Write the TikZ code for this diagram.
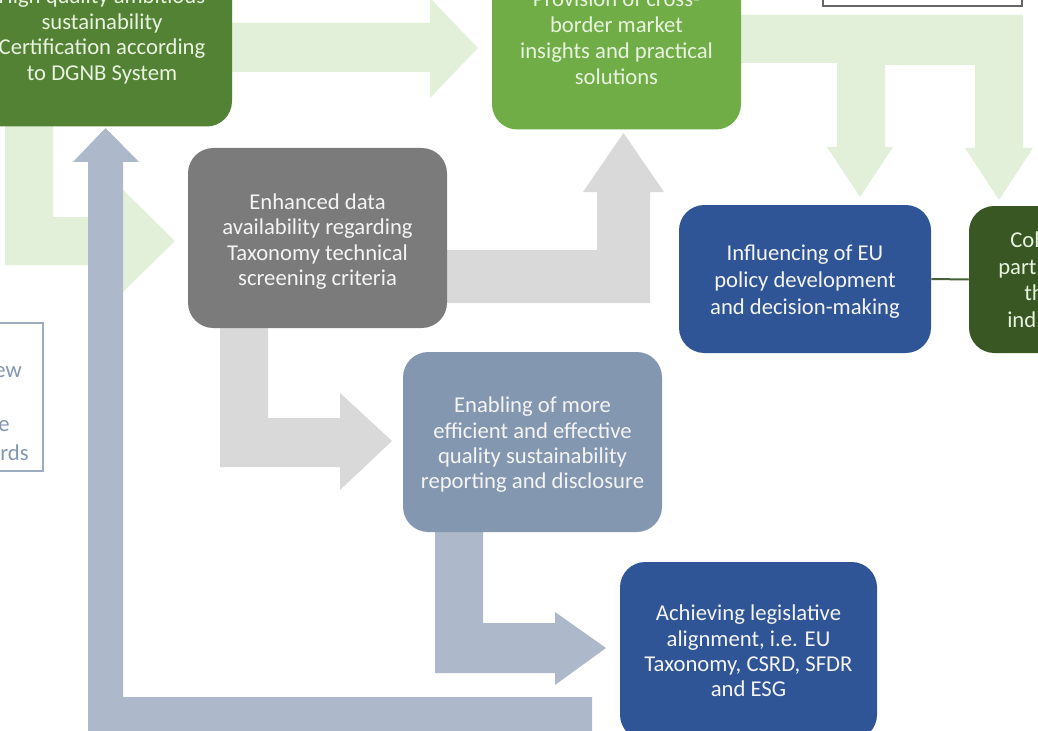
\documentclass[tikz,border=0pt]{standalone}
\usepackage{fontspec}
\setmainfont{Carlito}
\definecolor{cgreen}{HTML}{548235}
\definecolor{pgreen}{HTML}{70AD47}
\definecolor{dgray}{HTML}{7B7B7B}
\definecolor{bgray}{HTML}{8497B0}
\definecolor{dblue}{HTML}{2F5597}
\definecolor{dgreen}{HTML}{385723}
\definecolor{lgreen}{HTML}{E2F0D9}
\definecolor{lgray}{HTML}{D9D9D9}
\definecolor{lbgray}{HTML}{ADB9CA}
\definecolor{gtext}{HTML}{E8F3E0}
\definecolor{wtext}{HTML}{F4F4F4}
\tikzset{
  boxbase/.style={rounded corners=19pt, inner sep=0pt},
  greenbox/.style={boxbase, fill=#1},
  otherbox/.style={boxbase, fill=#1},
  boxtext/.style={inner sep=0pt, align=center, font=\fontsize{17}{19}\selectfont},
  greenarrow/.style={fill=lgreen, draw=none},
  grayarrow/.style={fill=lgray, draw=none},
  bluearrow/.style={fill=lbgray, draw=none},
  fragtext/.style={inner sep=0pt, font=\fontsize{17}{19}\selectfont},
}
\begin{document}
\begin{tikzpicture}[x=0.75pt,y=-0.75pt]
\useasboundingbox (0,0) rectangle (1038,731);
\clip (0,0) rectangle (1038,731);
\fill[white] (0,0) rectangle (1038,731);

% light green arrows
\path[greenarrow] (225,23) -- (430,23) -- (430,-2) -- (478,48) -- (430,98) -- (430,72) -- (225,72) -- cycle;
\path[greenarrow] (735,15) -- (1023,15) -- (1023,148) -- (1033,148) -- (999,200) -- (965,148) -- (975,148)
  -- (975,65) -- (885,65) -- (885,147) -- (893,147) -- (860,197) -- (827,147) -- (837,147)
  -- (837,63) -- (735,63) -- cycle;
\path[greenarrow] (5,118) -- (53,118) -- (53,217) -- (123,217) -- (123,190) -- (175,241) -- (123,292)
  -- (123,265) -- (5,265) -- cycle;

% light gray arrows
\path[grayarrow] (440,250) -- (597,250) -- (597,192) -- (583,192) -- (623.5,133) -- (664,192) -- (650,192)
  -- (650,303) -- (440,303) -- cycle;
\path[grayarrow] (220,320) -- (268,320) -- (268,418) -- (340,418) -- (340,393) -- (392,441) -- (340,490)
  -- (340,467) -- (220,467) -- cycle;

% blue-gray arrows
\path[bluearrow] (592,697) -- (592,740) -- (88,740) -- (88,162) -- (73,162) -- (105.5,128) -- (139,162)
  -- (123,162) -- (123,697) -- cycle;
\path[bluearrow] (435,525) -- (483,525) -- (483,623) -- (555,623) -- (555,612) -- (606,648) -- (555,685)
  -- (555,673) -- (435,673) -- cycle;

% outline boxes at the edges
\draw[draw=bgray!80, line width=1.1pt, fill=white] (-10,323) rectangle (43,471);
\draw[draw=black!60, line width=1.1pt, fill=white] (823,-20) rectangle (1022,6);
\node[fragtext, text=bgray, anchor=east] (lf1) at (22,372) {ew};
\node[fragtext, text=bgray, anchor=east] (lf2) at (10,426) {e};
\node[fragtext, text=bgray, anchor=east] (lf3) at (29,453) {rds};

% boxes
\node[greenbox=cgreen, minimum width=195pt, minimum height=135.75pt] (cert) at (102,36) {};
\node[boxtext, text=gtext, font=\fontsize{17}{19.4}\selectfont] (certT) at (cert.center)
  {High quality ambitious\\sustainability\\Certification according\\to DGNB System};
\node[greenbox=pgreen, minimum width=186.75pt, minimum height=137.25pt] (prov) at (616.5,38) {};
\node[boxtext, text=gtext, font=\fontsize{17}{19.6}\selectfont] (provT) at (prov.center)
  {Provision of cross-\\border market\\insights and practical\\solutions};
\node[otherbox=dgray, minimum width=194.25pt, minimum height=135pt] (data) at (317.5,238) {};
\node[boxtext, text=wtext, yshift=-2.6pt] (dataT) at (data.center)
  {Enhanced data\\availability regarding\\Taxonomy technical\\screening criteria};
\node[otherbox=bgray, minimum width=194.25pt, minimum height=135pt] (enab) at (532.5,442) {};
\node[boxtext, text=wtext, yshift=-2.2pt] (enabT) at (enab.center)
  {Enabling of more\\efficient and effective\\quality sustainability\\reporting and disclosure};
\node[otherbox=dblue, minimum width=189pt, minimum height=111pt] (infl) at (805,279) {};
\node[boxtext, text=wtext, font=\fontsize{17}{20.2}\selectfont, yshift=-2.2pt] (inflT) at (infl.center)
  {Influencing of EU\\policy development\\and decision-making};
\node[otherbox=dblue, minimum width=192.75pt, minimum height=133.5pt] (leg) at (748.5,651) {};
\node[boxtext, text=wtext] (legT) at (leg.center)
  {Achieving legislative\\alignment, i.e. EU\\Taxonomy, CSRD, SFDR\\and ESG};
\node[otherbox=dgreen, minimum width=189pt, minimum height=110.25pt] (coll) at (1095,279.5) {};
\node[fragtext, text=gtext, anchor=base west] (c1) at (1010,247) {Col};
\node[fragtext, text=gtext, anchor=base west] (c2) at (998,274) {part};
\node[fragtext, text=gtext, anchor=base west] (c3) at (1024,300) {th};
\node[fragtext, text=gtext, anchor=base west] (c4) at (1007,327) {ind};

\draw[draw=dgreen!80!gray, line width=1.5pt] (infl.east) -- (coll.west);
\end{tikzpicture}
\end{document}
